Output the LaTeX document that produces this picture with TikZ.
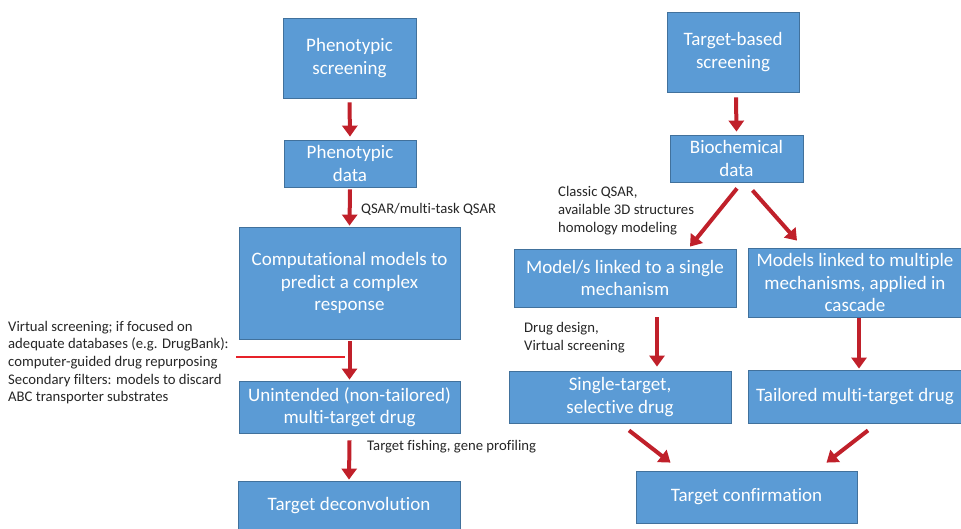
\documentclass[tikz,border=0pt]{standalone}
\usepackage{fontspec}
\setmainfont{Carlito}[Ligatures=NoCommon]
\usetikzlibrary{arrows.meta}
\usetikzlibrary{positioning}

\definecolor{boxfill}{HTML}{5B9BD5}
\definecolor{boxline}{HTML}{41719C}
\definecolor{arrred}{HTML}{C0202A}
\definecolor{linered}{HTML}{E62129}
\definecolor{lbltext}{HTML}{262626}

\begin{document}
\begin{tikzpicture}[x=1pt, y=-1pt,
    box/.style={draw=boxline, line width=0.8pt, fill=boxfill, text=white, align=center,
                inner sep=0pt, font=\fontsize{19}{22.5}\selectfont},
    lbl/.style={text=lbltext, align=left, anchor=west, inner sep=0pt,
                font=\fontsize{14.7}{17.7}\selectfont},
    arr/.style={draw=arrred, line width=4pt, -{Triangle[length=11pt,width=15pt]}}]
  \useasboundingbox (0,0) rectangle (961,528);

  % left branch: phenotypic screening
  \node[box, minimum width=133pt, minimum height=80pt] (phenoscr) at (349.5,58) {Phenotypic\\screening};
  \node[box, minimum width=132pt, minimum height=47pt] (phenodata) at (350,163.5) {Phenotypic\\data};
  \node[box, minimum width=221pt, minimum height=112pt] (compmod) at (349.5,283) {Computational models to\\predict a complex\\response};
  \node[box, minimum width=221pt, minimum height=52pt] (unint) at (349.5,407) {Unintended (non-tailored)\\multi-target drug};
  \node[box, minimum width=222pt, minimum height=50pt] (deconv) at (349,506) {Target deconvolution};

  % right branch: target-based screening
  \node[box, minimum width=132pt, minimum height=80pt] (tbscr) at (733,52) {Target-based\\screening};
  \node[box, minimum width=133pt, minimum height=47pt] (biochem) at (736.5,158.5) {Biochemical\\data};
  \node[box, minimum width=222pt, minimum height=58pt] (single) at (625,278) {Model/s linked to a single\\mechanism};
  \node[box, minimum width=214pt, minimum height=69pt] (multi) at (855,282.5) {Models linked to multiple\\mechanisms, applied in\\cascade};
  \node[box, minimum width=222pt, minimum height=52pt] (seltar) at (620,397) {Single-target,\\selective drug};
  \node[box, minimum width=214pt, minimum height=53pt] (tailored) at (855,396.5) {Tailored multi-target drug};
  \node[box, minimum width=221pt, minimum height=52pt] (confirm) at (746.5,497) {Target confirmation};

  % labels
  \node[lbl] (qsarlbl) at (361,209) {QSAR/multi-task QSAR};
  \node[lbl] (vslbl) at (8,362.5) {Virtual screening; if focused on\\adequate databases (e.g. DrugBank):\\computer-guided drug repurposing\\Secondary filters: models to discard\\ABC transporter substrates};
  \node[lbl] (fishlbl) at (367,447) {Target fishing, gene profiling};
  \node[lbl] (classlbl) at (558,210.5) {Classic QSAR,\\available 3D structures\\homology modeling};
  \node[lbl] (designlbl) at (524,337.5) {Drug design,\\Virtual screening};

  % arrows left
  \draw[arr] ([yshift=-4pt]phenoscr.south) -- ([yshift=3pt]phenodata.north);
  \draw[arr] ([yshift=-2pt]phenodata.south) -- ([yshift=1pt]compmod.north);
  \draw[arr] ([yshift=-2pt]compmod.south) -- ([yshift=1pt]unint.north);
  \draw[arr] ([yshift=-7pt]unint.south) -- ([yshift=1pt]deconv.north);

  % red line to the virtual screening step
  \coordinate (vsl) at (236,357);
  \coordinate (vsr) at (345,357);
  \draw[linered, line width=1.5pt] (vsl) -- (vsr);

  % arrows right
  \draw[arr] ([xshift=3pt,yshift=-5pt]tbscr.south) -- ([yshift=3pt]biochem.north);
  \draw[arr] ([xshift=0.5pt,yshift=-6pt]biochem.south) -- ([xshift=65pt,yshift=2pt]single.north);
  \draw[arr] ([xshift=16pt,yshift=-8pt]biochem.south) -- ([xshift=-58pt,yshift=7pt]multi.north);
  \draw[arr] ([xshift=32pt,yshift=-10pt]single.south) -- ([xshift=37pt,yshift=4pt]seltar.north);
  \draw[arr] ([xshift=4pt,yshift=-1pt]multi.south) -- ([xshift=4pt,yshift=1pt]tailored.north);
  \draw[arr] ([xshift=9pt,yshift=-7pt]seltar.south) -- ([xshift=-76pt,yshift=8pt]confirm.north);
  \draw[arr] ([xshift=13pt,yshift=-7pt]tailored.south) -- ([xshift=80pt,yshift=8pt]confirm.north);
\end{tikzpicture}
\end{document}
